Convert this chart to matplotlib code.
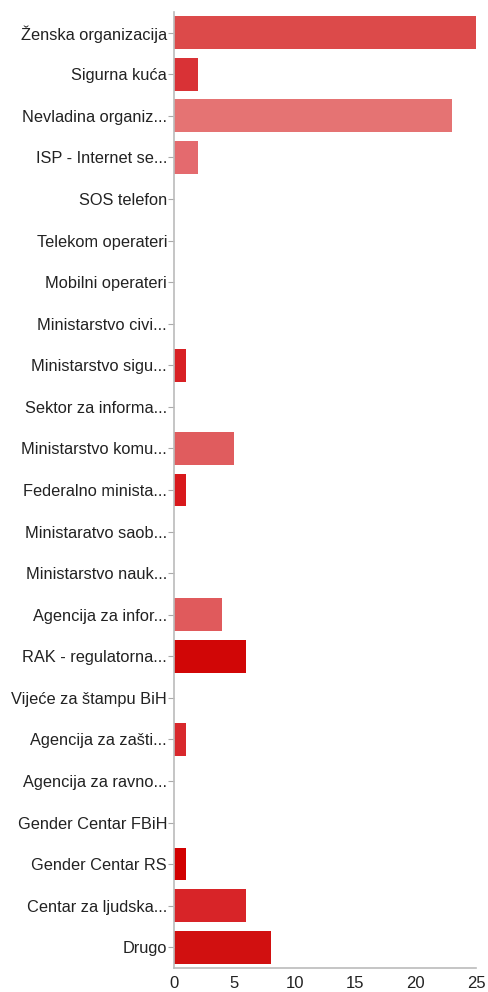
import matplotlib.pyplot as plt

# kategorije i vrijednosti
kategorije = ['Ženska organizacija', 'Sigurna kuća', 'Nevladina organiz...',
              'ISP - Internet se...', 'SOS telefon', 'Telekom operateri',
              'Mobilni operateri', 'Ministarstvo civi...', 'Ministarstvo sigu...',
              'Sektor za informa...', 'Ministarstvo komu...', 'Federalno minista...',
              'Ministaratvo saob...', 'Ministarstvo nauk...', 'Agencija za infor...',
              'RAK - regulatorna...', 'Vijeće za štampu BiH', 'Agencija za zašti...',
              'Agencija za ravno...', 'Gender Centar FBiH', 'Gender Centar RS',
              'Centar za ljudska...', 'Drugo']
vrijednosti = [25, 2, 23, 2, 0, 0, 0, 0, 1, 0, 5, 1, 0, 0, 4, 6, 0, 1, 0, 0, 1, 6, 8]
boje = ['#DC4A4A', '#D93236', '#E57373', '#E46A6E', '#D93236', '#D93236',
        '#D93236', '#D93236', '#D82024', '#D93236', '#E05C5E', '#D8181C',
        '#D93236', '#D93236', '#E05A5C', '#D10606', '#D93236', '#D8282C',
        '#D93236', '#D93236', '#D20000', '#D82428', '#D11010']
x_tickovi = [0, 5, 10, 15, 20, 25]

plt.rcParams['font.family'] = ['Liberation Sans', 'DejaVu Sans']

fig = plt.figure(figsize=(4.88, 9.92), dpi=100)
ax = fig.add_axes([0.3566, 0.0242, 0.6188, 0.9637])

pozicije = list(range(len(kategorije)))
ax.barh(pozicije, vrijednosti, height=0.79, color=boje, edgecolor='none')

ax.set_ylim(len(kategorije) - 0.5, -0.5)
ax.set_xlim(0, 25)
ax.set_yticks(pozicije)
ax.set_yticklabels(kategorije, fontsize=11.8, color='#222222')
ax.set_xticks(x_tickovi)
ax.set_xticklabels([str(t) for t in x_tickovi], fontsize=12, color='#222222')

for s in ['top', 'right']:
    ax.spines[s].set_visible(False)
for s in ['left', 'bottom']:
    ax.spines[s].set_color('#BBBBBB')
    ax.spines[s].set_linewidth(1.2)
ax.tick_params(axis='y', length=4, color='#AAAAAA', pad=1)
ax.tick_params(axis='x', length=0, pad=6)

fig.savefig('out.png', dpi=100)
